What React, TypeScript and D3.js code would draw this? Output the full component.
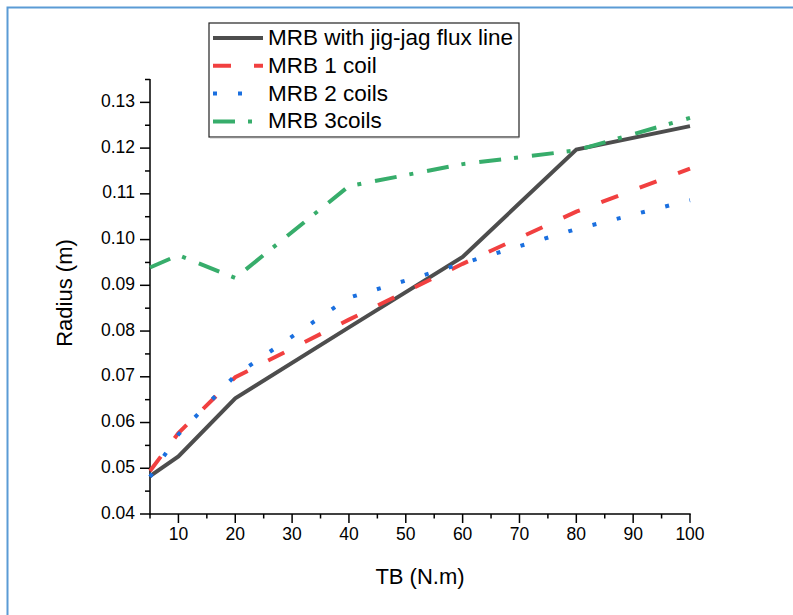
import React from "react";
import * as d3 from "d3";

const tb = [5, 10, 20, 40, 60, 80, 100];
const jigJag = [0.0483, 0.0526, 0.0653, 0.0808, 0.0962, 0.1197, 0.1248];
const oneCoil = [0.0494, 0.0577, 0.0699, 0.0825, 0.0947, 0.1061, 0.1155];
const twoCoils = [0.0481, 0.0574, 0.0703, 0.0873, 0.0948, 0.1023, 0.1086];
const threeCoils = [0.0939, 0.0966, 0.0916, 0.1117, 0.1165, 0.1195, 0.1266];

const seriesNames = ["MRB with jig-jag flux line", "MRB 1 coil", "MRB 2 coils", "MRB 3coils"];
const seriesValues = [jigJag, oneCoil, twoCoils, threeCoils];
const seriesColors = ["#4d4d4d", "#f14040", "#1a6fdf", "#37ad6b"];
const seriesDash = ["none", "18,23", "4,21", "22,13,4,14"];

const xMajor = [10, 20, 30, 40, 50, 60, 70, 80, 90, 100];
const xMinor = [5, 15, 25, 35, 45, 55, 65, 75, 85, 95];
const yMajor = [0.04, 0.05, 0.06, 0.07, 0.08, 0.09, 0.1, 0.11, 0.12, 0.13];
const yMinor = [0.045, 0.055, 0.065, 0.075, 0.085, 0.095, 0.105, 0.115, 0.125, 0.135];

const FONT = "'Liberation Sans', Arial, sans-serif";

export default function App() {
  const x = d3.scaleLinear().domain([5, 100]).range([150, 690]);
  const y = d3.scaleLinear().domain([0.04, 0.135]).range([514, 79.5]);
  const line = d3
    .line<[number, number]>()
    .x((d) => x(d[0]))
    .y((d) => y(d[1]));

  const legendX = 209;
  const legendY = 23;
  const rowH = 27.8;

  return (
    <svg
      width={793}
      height={615}
      style={{ position: "absolute", left: 0, top: 0, background: "#fff" }}
      fontFamily={FONT}
    >
      <rect x={0} y={0} width={793} height={615} fill="#fff" />
      {/* outer frame */}
      <rect x={7.5} y={7.5} width={820} height={640} fill="none" stroke="#5b9bd5" strokeWidth={2} />

      {/* axes */}
      <line x1={150} y1={514} x2={690.7} y2={514} stroke="#000" strokeWidth={1.5} />
      <line x1={150} y1={514.7} x2={150} y2={79} stroke="#000" strokeWidth={1.5} />
      {xMajor.map((v) => (
        <g key={"xm" + v}>
          <line x1={x(v)} x2={x(v)} y1={514} y2={523} stroke="#000" strokeWidth={1.5} />
          <text x={x(v)} y={535} fontSize={17.5} textAnchor="middle" dominantBaseline="middle">
            {v}
          </text>
        </g>
      ))}
      {xMinor.map((v) => (
        <line key={"xn" + v} x1={x(v)} x2={x(v)} y1={514} y2={518.5} stroke="#000" strokeWidth={1.5} />
      ))}
      {yMajor.map((v) => (
        <g key={"ym" + v}>
          <line x1={150} x2={140} y1={y(v)} y2={y(v)} stroke="#000" strokeWidth={1.5} />
          <text x={135} y={y(v)} fontSize={17.5} textAnchor="end" dominantBaseline="middle">
            {v.toFixed(2)}
          </text>
        </g>
      ))}
      {yMinor.map((v) => (
        <line key={"yn" + v} x1={150} x2={145} y1={y(v)} y2={y(v)} stroke="#000" strokeWidth={1.5} />
      ))}

      <text x={420} y={578} fontSize={22} textAnchor="middle" dominantBaseline="middle">
        TB (N.m)
      </text>
      <text
        transform={`translate(66,293) rotate(-90)`}
        fontSize={22}
        textAnchor="middle"
        dominantBaseline="middle"
      >
        Radius (m)
      </text>

      {/* series */}
      {seriesValues.map((vals, i) => (
        <path
          key={"s" + i}
          d={line(tb.map((t, j) => [t, vals[j]] as [number, number])) || ""}
          fill="none"
          stroke={seriesColors[i]}
          strokeWidth={4}
          strokeDasharray={seriesDash[i]}
          strokeLinejoin="miter"
        />
      ))}

      {/* legend */}
      <rect x={legendX} y={legendY} width={310} height={114} fill="#fff" stroke="#222" strokeWidth={1.2} />
      <line x1={legendX + 1} x2={legendX + 310} y1={legendY + 114.5} y2={legendY + 114.5} stroke="#888" strokeWidth={1.5} />
      {seriesNames.map((name, i) => (
        <g key={"l" + i}>
          <line
            x1={legendX + 4}
            x2={legendX + 54}
            y1={legendY + 15 + i * rowH}
            y2={legendY + 15 + i * rowH}
            stroke={seriesColors[i]}
            strokeWidth={4}
            strokeDasharray={seriesDash[i]}
          />
          <text x={legendX + 59} y={legendY + 16 + i * rowH} fontSize={22.5} dominantBaseline="middle">
            {name}
          </text>
        </g>
      ))}
    </svg>
  );
}
